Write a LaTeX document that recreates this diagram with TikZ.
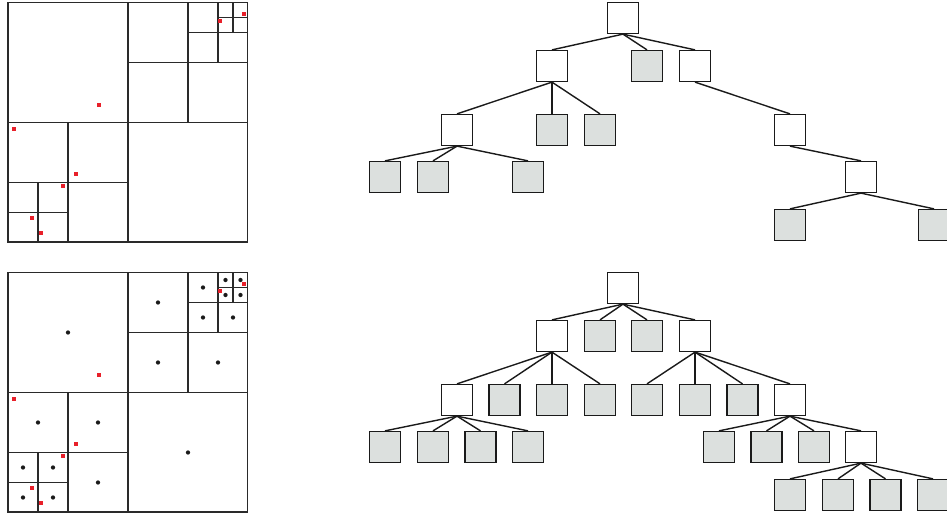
\documentclass[tikz,border=0pt]{standalone}
\usetikzlibrary{positioning}
\definecolor{qline}{HTML}{2A2A2A}
\definecolor{tline}{HTML}{1A1A1A}
\definecolor{leafgray}{HTML}{DCE0DE}
\definecolor{qred}{HTML}{E8202A}
\definecolor{qdot}{HTML}{1A1A1A}
\tikzset{
  inner/.style={draw=tline, line width=1.2pt, fill=white, minimum size=23pt, inner sep=0pt},
  leaf/.style={inner, fill=leafgray},
  edge/.style={draw=tline, line width=1.05pt},
  grid/.style={draw=qline, line width=1.25pt},
}
\begin{document}
\begin{tikzpicture}[x=0.75pt, y=-0.75pt]
\clip (0,0) rectangle (947,520);
\fill[white] (0,0) rectangle (947,520);

% ---------- quadtrees (top and bottom) ----------
\foreach \oy in {0,270} {
  \begin{scope}[shift={(0,\oy)}]
    \draw[grid] (8,2.5) rectangle (247.5,242);
    \draw[grid] (128,2.5) -- (128,242);
    \draw[grid] (8,122.5) -- (247.5,122.5);
    % NE quadrant
    \draw[grid] (188,2.5) -- (188,122.5);
    \draw[grid] (128,62.5) -- (247.5,62.5);
    \draw[grid] (218,2.5) -- (218,62.5);
    \draw[grid] (188,32.5) -- (247.5,32.5);
    \draw[grid] (233,2.5) -- (233,32.5);
    \draw[grid] (218,17.5) -- (247.5,17.5);
    % SW quadrant
    \draw[grid] (68,122.5) -- (68,242);
    \draw[grid] (8,182.5) -- (128,182.5);
    \draw[grid] (38,182.5) -- (38,242);
    \draw[grid] (8,212.5) -- (68,212.5);
    % red points
    \foreach \px/\py in {99.3/105.3, 13.7/129, 76.3/173.7, 63.3/186.3, 32.3/218.3, 41.3/233.3, 220.3/21, 243.7/14} {
      \fill[qred] (\px,\py) ++(-2.1,-2.1) rectangle ++(4.2,4.2);
    }
  \end{scope}
}
% black centre dots (bottom quadtree)
\foreach \px/\py in {68/332.5, 158/302.5, 158/362.5, 218/362.5, 203/287.5, 203/317.5, 233/317.5,
  225.5/280, 240.5/280, 225.5/295, 240.5/295, 188/452.5, 38/422.5, 98/422.5, 98/482.5,
  23/467.5, 53/467.5, 23/497.5, 53/497.5} {
  \fill[qdot] (\px,\py) circle[radius=1.6pt];
}

% ---------- top tree ----------
\node[inner] (t0) at (623,18) {};
\node[inner] (t1a) at (552,66) {};
\node[leaf]  (t1b) at (647,66) {};
\node[inner] (t1c) at (695,66) {};
\node[inner] (t2a) at (457,130) {};
\node[leaf]  (t2b) at (552,130) {};
\node[leaf]  (t2c) at (600,130) {};
\node[inner] (t2d) at (790,130) {};
\node[leaf]  (t3a) at (385,177) {};
\node[leaf]  (t3b) at (433,177) {};
\node[leaf]  (t3c) at (528,177) {};
\node[inner] (t3d) at (861,177) {};
\node[leaf]  (t4a) at (790,225) {};
\node[leaf]  (t4b) at (934,225) {};
\foreach \p/\c in {t0/t1a, t0/t1b, t0/t1c, t1a/t2a, t1a/t2b, t1a/t2c, t1c/t2d,
  t2a/t3a, t2a/t3b, t2a/t3c, t2d/t3d, t3d/t4a, t3d/t4b} {
  \draw[edge] (\p.south) -- (\c.north);
}

% ---------- bottom tree ----------
\node[inner] (b0) at (623,288) {};
\node[inner] (b1a) at (552,336) {};
\node[leaf]  (b1b) at (600,336) {};
\node[leaf]  (b1c) at (647,336) {};
\node[inner] (b1d) at (695,336) {};
\node[inner] (b2a) at (457,400) {};
\node[leaf]  (b2b) at (504.5,400) {};
\node[leaf]  (b2c) at (552,400) {};
\node[leaf]  (b2d) at (600,400) {};
\node[leaf]  (b2e) at (647,400) {};
\node[leaf]  (b2f) at (695,400) {};
\node[leaf]  (b2g) at (742.5,400) {};
\node[inner] (b2h) at (790,400) {};
\node[leaf]  (b3a) at (385,447) {};
\node[leaf]  (b3b) at (433,447) {};
\node[leaf]  (b3c) at (480.5,447) {};
\node[leaf]  (b3d) at (528,447) {};
\node[leaf]  (b3e) at (719,447) {};
\node[leaf]  (b3f) at (766.5,447) {};
\node[leaf]  (b3g) at (814,447) {};
\node[inner] (b3h) at (861,447) {};
\node[leaf]  (b4a) at (790,495) {};
\node[leaf]  (b4b) at (838,495) {};
\node[leaf]  (b4c) at (885.5,495) {};
\node[leaf]  (b4d) at (933,495) {};
\foreach \p/\c in {b0/b1a, b0/b1b, b0/b1c, b0/b1d,
  b1a/b2a, b1a/b2b, b1a/b2c, b1a/b2d, b1d/b2e, b1d/b2f, b1d/b2g, b1d/b2h,
  b2a/b3a, b2a/b3b, b2a/b3c, b2a/b3d, b2h/b3e, b2h/b3f, b2h/b3g, b2h/b3h,
  b3h/b4a, b3h/b4b, b3h/b4c, b3h/b4d} {
  \draw[edge] (\p.south) -- (\c.north);
}
\end{tikzpicture}
\end{document}
